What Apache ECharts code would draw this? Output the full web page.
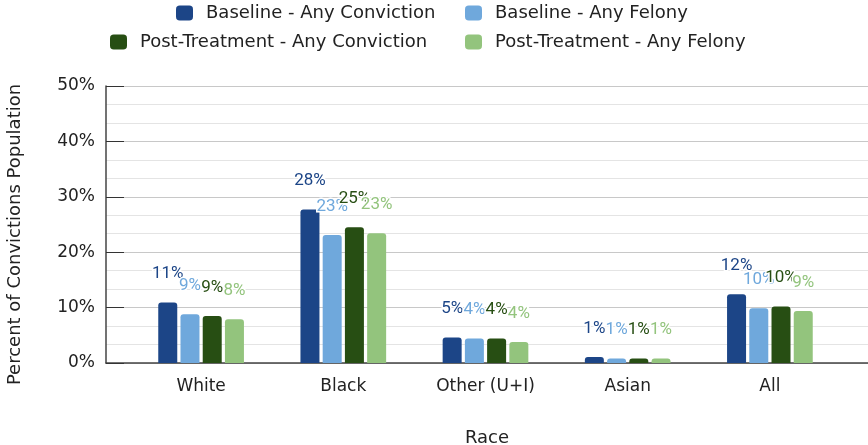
<!DOCTYPE html>
<html>
<head>
<meta charset="utf-8">
<script src="https://cdn.jsdelivr.net/npm/echarts@6/dist/echarts.min.js"></script>
<style>
  html, body { margin: 0; padding: 0; background: #fff; }
  #chart { width: 868px; height: 445px; }
</style>
</head>
<body>
<div id="chart"></div>
<script>
// Conviction rates by race, baseline vs post-treatment
const categories = ['White', 'Black', 'Other (U+I)', 'Asian', 'All'];
const seriesNames = [
  'Baseline - Any Conviction',
  'Baseline - Any Felony',
  'Post-Treatment - Any Conviction',
  'Post-Treatment - Any Felony'
];
const baselineConviction = [10.9, 27.7, 4.6, 1.1, 12.4];
const baselineFelony = [8.8, 23.1, 4.4, 0.8, 9.9];
const postConviction = [8.5, 24.5, 4.4, 0.8, 10.2];
const postFelony = [7.9, 23.4, 3.8, 0.8, 9.4];
const yTicks = [0, 10, 20, 30, 40, 50];

const colors = ['#1c4587', '#6fa8dc', '#274e13', '#93c47d'];
const values = [baselineConviction, baselineFelony, postConviction, postFelony];

const axisFont = 'DejaVu Sans, Verdana, sans-serif';
const textColor = '#222';

const chart = echarts.init(document.getElementById('chart'), null, { renderer: 'canvas' });

// two-column legend: first column right-aligned, second left-aligned
const legendPos = [
  { left: 176, top: 4 },
  { left: 465, top: 4 },
  { left: 110, top: 33 },
  { left: 465, top: 33 }
];

const option = {
  animation: false,
  backgroundColor: '#fff',
  color: colors,
  legend: seriesNames.map((n, i) => ({
    data: [n],
    left: legendPos[i].left,
    top: legendPos[i].top,
    padding: 0,
    icon: 'roundRect',
    itemWidth: 17,
    itemHeight: 15,
    textStyle: { fontFamily: axisFont, fontSize: 18, color: textColor, padding: [0, 0, 0, 8] }
  })),
  grid: [
    { left: 106, right: 0, top: 86, bottom: 82, outerBoundsMode: 'none' },
    { left: 130, right: 27, top: 86, bottom: 82, outerBoundsMode: 'none' }
  ],
  xAxis: [
    {
      type: 'value', gridIndex: 0, min: 0, max: 1,
      axisLine: { show: true, lineStyle: { color: '#444', width: 1.5 } },
      axisTick: { show: false }, axisLabel: { show: false }, splitLine: { show: false },
      name: 'Race', nameLocation: 'middle', nameGap: 66,
      nameTextStyle: { fontFamily: axisFont, fontSize: 18, color: textColor }
    },
    {
      type: 'category', gridIndex: 1, data: categories,
      axisLine: { show: false }, axisTick: { show: false },
      axisLabel: { fontFamily: axisFont, fontSize: 17, color: textColor, margin: 15 }
    }
  ],
  yAxis: [
    {
      type: 'value', gridIndex: 0, min: yTicks[0], max: yTicks[yTicks.length - 1], interval: 10,
      axisLine: { show: true, lineStyle: { color: '#444', width: 1.5 } },
      axisTick: { show: true, inside: true, length: 18, lineStyle: { color: '#333' } },
      minorTick: { show: false, splitNumber: 3 },
      axisLabel: { fontFamily: axisFont, fontSize: 17, color: textColor, margin: 11, formatter: '{value}%' },
      splitLine: { show: true, lineStyle: { color: '#c8c8c8', width: 1 } },
      minorSplitLine: { show: true, lineStyle: { color: '#e4e4e4', width: 1 } },
      name: 'Percent of Convictions Population', nameLocation: 'middle', nameGap: 82,
      nameTextStyle: { fontFamily: axisFont, fontSize: 18, color: textColor, padding: [0, 20, 0, 0] }
    },
    {
      type: 'value', gridIndex: 1, min: 0, max: 50, show: false
    }
  ],
  series: seriesNames.map((n, i) => ({
    name: n,
    type: 'bar',
    xAxisIndex: 1,
    yAxisIndex: 1,
    data: values[i],
    barWidth: 19,
    barGap: '17%',
    itemStyle: { color: colors[i], borderRadius: [3, 3, 0, 0] },
    label: {
      show: true,
      position: 'top',
      distance: 20,
      color: colors[i],
      fontFamily: 'Roboto, sans-serif',
      fontSize: 17,
      textBorderColor: '#fff',
      textBorderWidth: 3,
      formatter: p => Math.round(p.value) + '%'
    }
  }))
};

chart.setOption(option);
</script>
</body>
</html>
